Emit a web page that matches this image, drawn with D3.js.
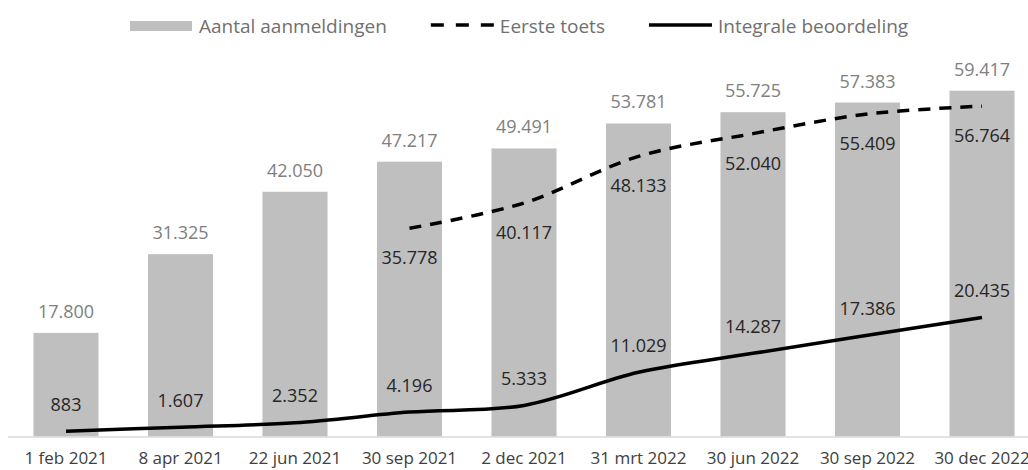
<!DOCTYPE html>
<html>
<head>
<meta charset="utf-8">
<script src="https://cdn.jsdelivr.net/npm/d3@7"></script>
<style>
  body { margin: 0; background: #fff; }
  svg { display: block; }
</style>
</head>
<body>
<svg id="chart"></svg>
<script>
const categories = ['1 feb 2021', '8 apr 2021', '22 jun 2021', '30 sep 2021', '2 dec 2021',
                    '31 mrt 2022', '30 jun 2022', '30 sep 2022', '30 dec 2022'];
const aanmeldingen = [17800, 31325, 42050, 47217, 49491, 53781, 55725, 57383, 59417];
const eersteToets = [null, null, null, 35778, 40117, 48133, 52040, 55409, 56764];
const integrale = [883, 1607, 2352, 4196, 5333, 11029, 14287, 17386, 20435];
const legendNames = ['Aantal aanmeldingen', 'Eerste toets', 'Integrale beoordeling'];

const width = 1028, height = 470;
const baseY = 436.5;
const chartFont = "'Open Sans', sans-serif";

const nl = d3.formatLocale({decimal: ',', thousands: '.', grouping: [3], currency: ['€', '']});
const fmt = nl.format(',');

const svg = d3.select('#chart')
  .attr('width', width)
  .attr('height', height);

svg.append('rect').attr('width', width).attr('height', height).attr('fill', '#fff');

// excel-like band: chart area runs a bit past the right edge
const x = d3.scaleBand()
  .domain(categories)
  .range([8.75, 1039.25])
  .paddingInner(0.432)
  .paddingOuter(0.216);

const y = d3.scaleLinear()
  .domain([0, 60000])
  .range([baseY, baseY - 349.2]);

const cx = i => x(categories[i]) + x.bandwidth() / 2;

// bars
svg.append('g').selectAll('rect')
  .data(aanmeldingen)
  .join('rect')
  .attr('x', (d, i) => x(categories[i]))
  .attr('y', d => y(d))
  .attr('width', x.bandwidth())
  .attr('height', d => y(0) - y(d))
  .attr('fill', '#bfbfbf');

// axis line + labels
svg.append('line')
  .attr('x1', 8).attr('x2', width)
  .attr('y1', baseY + 0.5).attr('y2', baseY + 0.5)
  .attr('stroke', '#d9d9d9')
  .attr('stroke-width', 1.5);

svg.append('g').selectAll('text')
  .data(categories)
  .join('text')
  .attr('x', d => x(d) + x.bandwidth() / 2)
  .attr('y', 464)
  .attr('text-anchor', 'middle')
  .style('font-family', chartFont)
  .style('font-size', '17px')
  .attr('fill', '#404040')
  .text(d => d);

// lines
const line = d3.line()
  .defined(d => d.v != null)
  .x(d => cx(d.i))
  .y(d => y(d.v))
  .curve(d3.curveCatmullRom.alpha(0.5));

const toPts = arr => arr.map((v, i) => ({i: i, v: v}));

svg.append('path')
  .datum(toPts(eersteToets).filter(d => d.v != null))
  .attr('d', line)
  .attr('fill', 'none')
  .attr('stroke', '#000')
  .attr('stroke-width', 3.5)
  .attr('stroke-dasharray', '12,9');

svg.append('path')
  .datum(toPts(integrale))
  .attr('d', line)
  .attr('fill', 'none')
  .attr('stroke', '#000')
  .attr('stroke-width', 3.5);

// labels
const labelStyle = sel => sel
  .attr('text-anchor', 'middle')
  .style('font-family', chartFont)
  .style('font-size', '18px');

svg.append('g').selectAll('text')
  .data(aanmeldingen)
  .join('text')
  .call(labelStyle)
  .attr('x', (d, i) => cx(i))
  .attr('y', d => y(d) - 15)
  .attr('fill', '#808080')
  .text(d => fmt(d));

svg.append('g').selectAll('text')
  .data(toPts(eersteToets).filter(d => d.v != null))
  .join('text')
  .call(labelStyle)
  .attr('x', d => cx(d.i))
  .attr('y', d => y(d.v) + 36)
  .attr('fill', '#262626')
  .text(d => fmt(d.v));

svg.append('g').selectAll('text')
  .data(toPts(integrale))
  .join('text')
  .call(labelStyle)
  .attr('x', d => cx(d.i))
  .attr('y', d => y(d.v) - 20.5)
  .attr('fill', '#262626')
  .text(d => fmt(d.v));

// legend
const legend = svg.append('g');
let lx = 130;
legendNames.forEach((name, k) => {
  const g = legend.append('g');
  if (k === 0) {
    g.append('rect')
      .attr('x', lx).attr('y', 21)
      .attr('width', 62).attr('height', 10)
      .attr('fill', '#bfbfbf');
  } else {
    g.append('line')
      .attr('x1', lx).attr('x2', lx + 63)
      .attr('y1', 25).attr('y2', 25)
      .attr('stroke', '#000')
      .attr('stroke-width', 3.5)
      .attr('stroke-dasharray', k === 1 ? '13,12' : null);
  }
  const t = g.append('text')
    .attr('x', lx + 69)
    .attr('y', 33)
    .style('font-family', chartFont)
    .style('font-size', '19px')
    .attr('fill', '#707070')
    .text(name);
  lx = lx + 69 + t.node().getComputedTextLength() + 44;
});
</script>
</body>
</html>
